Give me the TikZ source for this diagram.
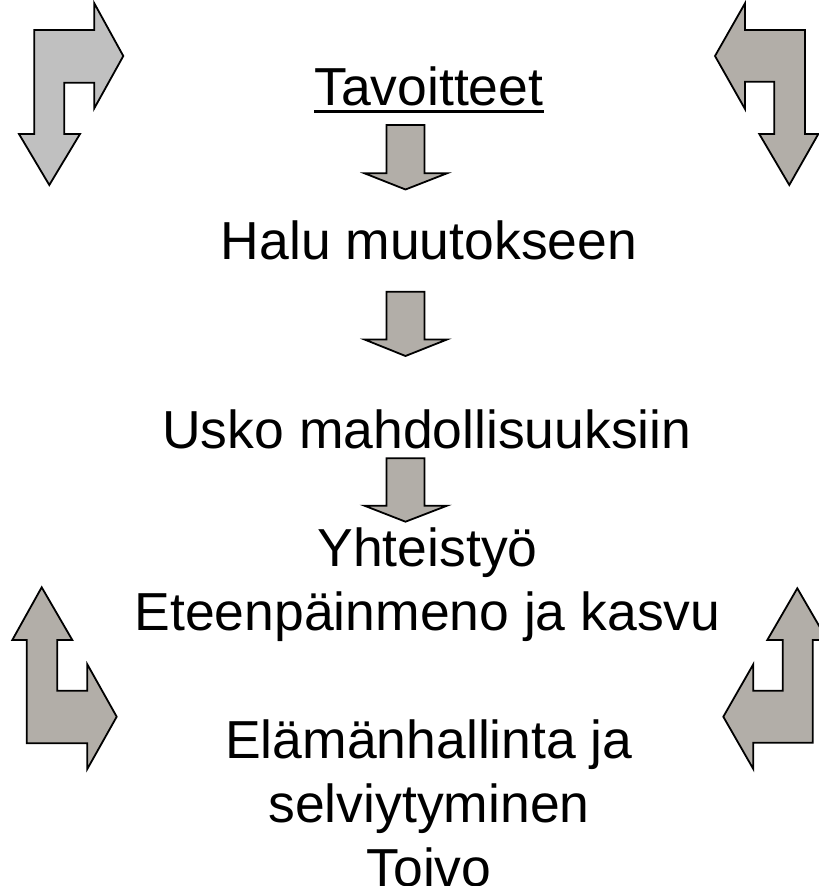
\documentclass[tikz,border=0pt]{standalone}
\usepackage{fontspec}
\setmainfont{Liberation Sans}
\definecolor{lightarrow}{HTML}{C0C0C0}
\definecolor{warmarrow}{HTML}{B2AEA8}
\tikzset{
  blockarrow/.style={draw=black, line width=1.8pt, line join=miter, fill=warmarrow},
  label/.style={anchor=base, inner sep=0pt, font=\fontsize{53.5}{64}\selectfont}
}
\newcommand{\smalldownarrow}[3]{% top, head base, tip (px, y down)
  \draw[blockarrow] (386.5,#1) -- (424.5,#1) -- (424.5,#2) -- (447,#2) -- (405.5,#3) -- (364.5,#2) -- (386.5,#2) -- cycle;}
\begin{document}
\begin{tikzpicture}[x=1pt,y=-1pt]
\useasboundingbox (0,0) rectangle (819,886);
% corner arrows
\draw[blockarrow, fill=lightarrow] (34.3,30) -- (94.3,30) -- (94.3,3.3) -- (123.3,56) -- (94.3,108.3) -- (94.3,82.7) -- (64.3,82.7) -- (64.3,134) -- (80,134) -- (49.3,185) -- (19,134) -- (34.3,134) -- cycle;
\draw[blockarrow] (805,30) -- (745,30) -- (745,3.3) -- (715,56) -- (745,109) -- (745,81.7) -- (774.3,81.7) -- (774.3,134) -- (759.3,134) -- (789.3,185) -- (818.3,134) -- (805,134) -- cycle;
\draw[blockarrow] (41.7,587.3) -- (72.3,640) -- (57.3,640) -- (57.3,690.7) -- (87.3,690.7) -- (87.3,664.3) -- (116.7,716.7) -- (87.3,769) -- (87.3,743.3) -- (26.7,743.3) -- (26.7,640) -- (12.3,640) -- cycle;
\draw[blockarrow] (797.3,588.3) -- (827.3,640) -- (812.7,640) -- (812.7,742.7) -- (753.3,742.7) -- (753.3,769) -- (723.3,716.7) -- (753.3,664.3) -- (753.3,690.7) -- (782.7,690.7) -- (782.7,640) -- (767.3,640) -- cycle;
% small down arrows
\smalldownarrow{125}{173.3}{189.5}
\smalldownarrow{291.7}{339.5}{356}
\smalldownarrow{458.3}{505.7}{521.7}
% texts
\node[label] (tav) at (428.8,105) {Tavoitteet};
\draw[line width=2.7pt] ([yshift=-6.7pt]tav.base west) -- ([yshift=-6.7pt]tav.base east);
\node[label] (halu) at (429,259.3) {Halu muutokseen};
\node[label] (usko) at (427,448.3) {Usko mahdollisuuksiin};
\node[label] (yht) at (427.5,566) {Yhteistyö};
\node[label] (ete) at (427.5,630) {Eteenpäinmeno ja kasvu};
\node[label] (ela) at (429,758.3) {Elämänhallinta ja};
\node[label] (sel) at (429,822) {selviytyminen};
\node[label] (toi) at (429,886) {Toivo};
\end{tikzpicture}
\end{document}
